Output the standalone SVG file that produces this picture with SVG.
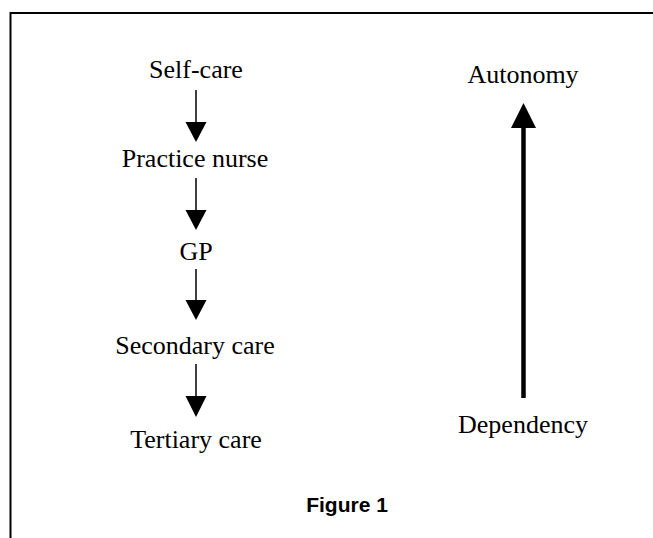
<svg xmlns="http://www.w3.org/2000/svg" width="653" height="538" viewBox="0 0 653 538">
<style>
.t{font-family:"Liberation Serif","Times New Roman",serif;font-size:26px;fill:#000;text-anchor:middle}
.f{font-family:"Liberation Sans",Arial,sans-serif;font-size:21px;font-weight:bold;fill:#000;text-anchor:middle}
.s{stroke:#000;stroke-width:1.5;fill:none}
.h{fill:#000}
</style>
<rect width="653" height="538" fill="#fff"/>
<g id="frame"><path d="M10.5 538 V13 H653" fill="none" stroke="#000" stroke-width="2"/></g>
<g id="self-care"><text class="t" x="196" y="78">Self-care</text></g>
<g id="practice-nurse"><text class="t" x="195" y="167">Practice nurse</text></g>
<g id="gp"><text class="t" x="196" y="260">GP</text></g>
<g id="secondary-care"><text class="t" x="195" y="354">Secondary care</text></g>
<g id="tertiary-care"><text class="t" x="196" y="448">Tertiary care</text></g>
<g id="autonomy"><text class="t" x="523" y="83">Autonomy</text></g>
<g id="dependency"><text class="t" x="523" y="433">Dependency</text></g>
<g id="caption"><text class="f" x="347" y="512">Figure 1</text></g>
<g id="connectors">
<line class="s" x1="196" y1="90" x2="196" y2="124"/><polygon class="h" points="185.5,122 206.5,122 196,142"/>
<line class="s" x1="196" y1="178" x2="196" y2="212"/><polygon class="h" points="185.5,210 206.5,210 196,230"/>
<line class="s" x1="196" y1="269" x2="196" y2="302"/><polygon class="h" points="185.5,300 206.5,300 196,320"/>
<line class="s" x1="196" y1="364" x2="196" y2="398"/><polygon class="h" points="185.5,396 206.5,396 196,417"/>
<line x1="523.5" y1="126" x2="523.5" y2="398" stroke="#000" stroke-width="4.5"/><polygon class="h" points="511,128 536,128 523.5,103"/>
</g>
</svg>
